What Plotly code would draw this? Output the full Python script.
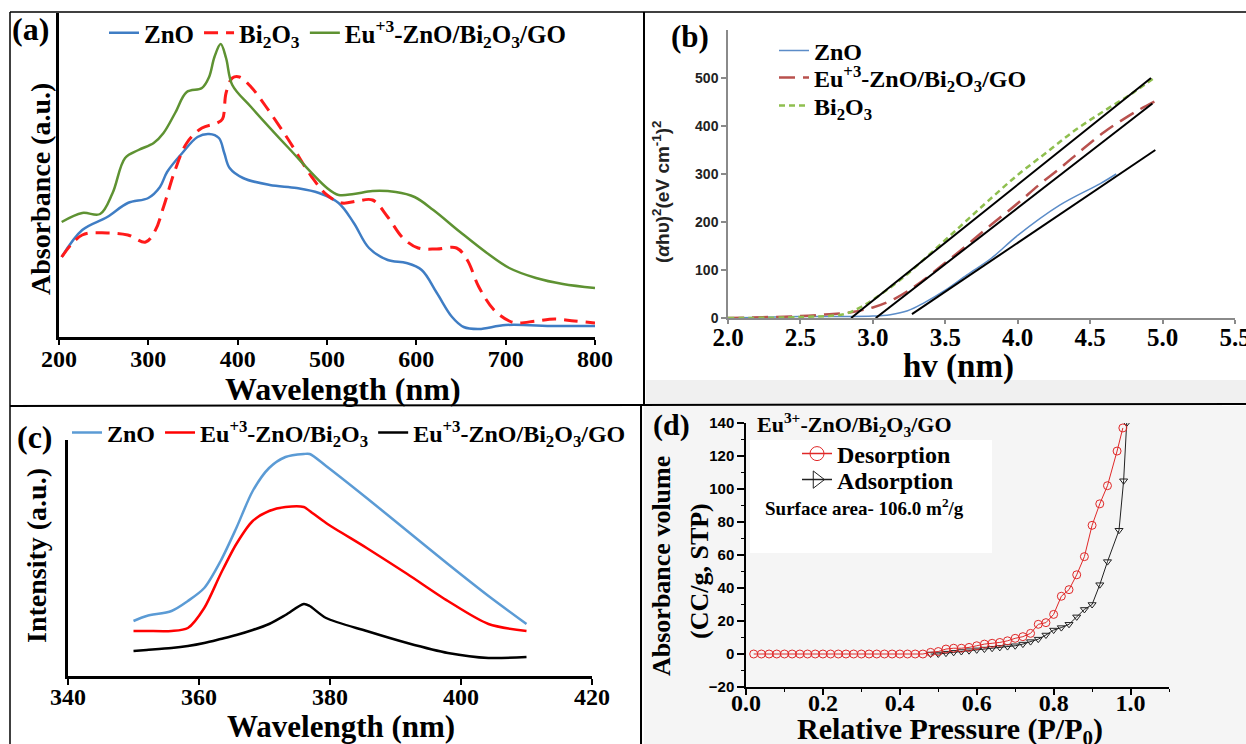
import plotly.graph_objects as go

W, H = 1246, 744
def px(x): return x / W
def py(y): return 1 - y / H

SERIF = "Liberation Serif"
SANS = "Liberation Sans"

# ---------------- (a) UV-Vis absorbance ----------------
a_zno_x = [203, 226, 254, 277, 300, 313, 321, 338, 355, 368, 379, 385, 391, 406, 436, 466, 491, 513, 530, 547, 568, 589, 606, 623, 640, 653, 670, 700, 755, 800]
a_zno_y = [80, 107, 120, 134, 139, 150, 165, 184, 200, 203, 199, 184, 169, 159, 152, 149, 144, 134, 114, 89, 77, 74, 67, 44, 20, 10, 8, 12, 11, 11]
a_bi_x = [203, 226, 254, 277, 297, 308, 317, 330, 343, 360, 377, 383, 387, 394, 402, 415, 432, 457, 483, 500, 517, 534, 551, 568, 585, 602, 623, 645, 657, 670, 687, 704, 713, 734, 755, 777, 800]
a_bi_y = [80, 102, 104, 102, 95, 107, 130, 167, 194, 209, 214, 218, 244, 259, 260, 250, 230, 197, 160, 142, 134, 136, 137, 120, 99, 89, 88, 89, 77, 50, 27, 16, 14, 16, 18, 16, 14]
a_eu_x = [203, 226, 246, 260, 274, 289, 306, 317, 330, 343, 360, 368, 374, 381, 387, 394, 415, 457, 500, 513, 530, 551, 577, 598, 619, 649, 679, 704, 734, 764, 800]
a_eu_y = [115, 124, 123, 144, 179, 187, 194, 204, 224, 245, 249, 260, 280, 293, 279, 252, 230, 189, 149, 142, 143, 146, 145, 140, 127, 105, 84, 69, 59, 53, 49]
a_ticks = [200, 300, 400, 500, 600, 700, 800]

# ---------------- (b) Tauc plot ----------------
b_zno_x = [2.0, 2.5, 2.8, 3.0, 3.12, 3.24, 3.35, 3.5, 3.65, 3.82, 4.0, 4.29, 4.57, 4.68]
b_zno_y = [0, 3, 3, 4, 7, 15, 31, 58, 90, 125, 172, 235, 280, 300]
b_eu_x = [2.0, 2.5, 2.7, 2.85, 3.0, 3.15, 3.3, 3.5, 3.65, 3.8, 4.0, 4.15, 4.3, 4.45, 4.6, 4.75, 4.85, 4.95]
b_eu_y = [0, 4, 8, 12, 22, 40, 68, 115, 152, 190, 239, 278, 314, 352, 388, 418, 436, 452]
b_bi_x = [2.0, 2.5, 2.8, 2.9, 3.0, 3.2, 3.4, 3.6, 3.8, 4.0, 4.2, 4.4, 4.6, 4.8, 4.95]
b_bi_y = [0, 2, 8, 20, 38, 82, 135, 190, 245, 298, 345, 392, 432, 470, 502]
b_fit_x = [2.85, 4.92, None, 3.02, 4.93, None, 3.27, 4.95]
b_fit_y = [0, 500, None, 0, 447, None, 8, 350]
b_xticks = [2.0, 2.5, 3.0, 3.5, 4.0, 4.5, 5.0, 5.5]
b_yticks = [0, 100, 200, 300, 400, 500]

# ---------------- (c) PL spectra ----------------
c_x = [350, 352, 355.8, 358.3, 360.8, 363.3, 365.7, 368.2, 370.7, 373.2, 376, 376.9, 379.4, 385.6, 391.8, 398, 404.2, 410]
c_zno = [55, 60, 65, 75, 88, 115, 148, 185, 208, 219, 222, 222, 210, 178, 145, 112, 80, 52]
c_eu = [45, 45, 45, 48, 68, 102, 132, 155, 165, 169, 169, 165, 153, 128, 102, 75, 52, 45]
c_go = [25, 26, 28, 30, 33, 37, 41, 46, 52, 61, 72, 70, 58, 45, 33, 23, 18, 19]
c_ticks = [340, 360, 380, 400, 420]

# ---------------- (d) BET isotherm ----------------
d_des_x = [0.02, 0.04, 0.06, 0.08, 0.10, 0.12, 0.14, 0.16, 0.18, 0.20, 0.22, 0.24, 0.26, 0.28, 0.30,
           0.32, 0.34, 0.36, 0.38, 0.40, 0.42, 0.44, 0.46, 0.48, 0.50, 0.52, 0.54, 0.56, 0.58, 0.60,
           0.62, 0.64, 0.66, 0.68, 0.70, 0.72, 0.74, 0.76, 0.78, 0.80, 0.82, 0.84, 0.86, 0.88, 0.90,
           0.92, 0.94, 0.965, 0.98]
d_des_y = [0, 0, 0, 0, 0, 0, 0, 0, 0, 0, 0, 0, 0, 0, 0,
           0, 0, 0, 0, 0, 0, 0, 0, 1, 1.5, 3, 3.5, 3.5, 4, 5,
           6, 6.5, 7, 8, 9.5, 10.5, 12.5, 18, 19, 24, 35, 39, 48, 59, 78,
           91, 102, 123, 137]
d_ads_x = [0.48, 0.50, 0.52, 0.54, 0.56, 0.58, 0.60, 0.62, 0.64, 0.66, 0.68, 0.70, 0.72, 0.74, 0.76,
           0.78, 0.80, 0.82, 0.84, 0.86, 0.88, 0.90, 0.92, 0.94, 0.97, 0.982, 0.99]
d_ads_y = [0, 0, 0.5, 1, 1.5, 2, 2.5, 3, 3.5, 4, 4.5, 5, 6, 7.5, 9,
           11.5, 14.5, 16, 18, 22.5, 27, 30, 42, 56, 75, 105, 140]
d_xticks = [0.0, 0.2, 0.4, 0.6, 0.8, 1.0]
d_yticks = [-20, 0, 20, 40, 60, 80, 100, 120, 140]

EU3_GO = "Eu<sup>+3</sup>-ZnO/Bi<sub>2</sub>O<sub>3</sub>/GO"
EU3 = "Eu<sup>+3</sup>-ZnO/Bi<sub>2</sub>O<sub>3</sub>"
BI = "Bi<sub>2</sub>O<sub>3</sub>"

fig = go.Figure()

# (a)
fig.add_trace(go.Scatter(x=a_zno_x, y=a_zno_y, name="ZnO", mode="lines", line=dict(color="#3f7dc4", width=2.5, shape="spline"), xaxis="x", yaxis="y", legend="legend"))
fig.add_trace(go.Scatter(x=a_bi_x, y=a_bi_y, name=BI, mode="lines", line=dict(color="#ff1a1a", width=3, dash="14px,8px", shape="spline"), xaxis="x", yaxis="y", legend="legend"))
fig.add_trace(go.Scatter(x=a_eu_x, y=a_eu_y, name=EU3_GO, mode="lines", line=dict(color="#5e9232", width=2.5, shape="spline"), xaxis="x", yaxis="y", legend="legend"))

# (b)
fig.add_trace(go.Scatter(x=b_zno_x, y=b_zno_y, name="ZnO", mode="lines", line=dict(color="#5b8cc8", width=1.5, shape="spline"), xaxis="x2", yaxis="y2", legend="legend2"))
fig.add_trace(go.Scatter(x=b_eu_x, y=b_eu_y, name=EU3_GO, mode="lines", line=dict(color="#b9514e", width=2.5, dash="16px,8px", shape="spline"), xaxis="x2", yaxis="y2", legend="legend3"))
fig.add_trace(go.Scatter(x=b_bi_x, y=b_bi_y, name=BI, mode="lines", line=dict(color="#8fbf4f", width=2.5, dash="6px,4px", shape="spline"), xaxis="x2", yaxis="y2", legend="legend4"))
fig.add_trace(go.Scatter(x=b_fit_x, y=b_fit_y, mode="lines", line=dict(color="black", width=2), showlegend=False, xaxis="x2", yaxis="y2"))

# (c)
fig.add_trace(go.Scatter(x=c_x, y=c_zno, name="ZnO", mode="lines", line=dict(color="#5b9bd5", width=2.5, shape="spline", smoothing=0.8), xaxis="x3", yaxis="y3", legend="legend5"))
fig.add_trace(go.Scatter(x=c_x, y=c_eu, name=EU3, mode="lines", line=dict(color="#ff0000", width=2.5, shape="spline", smoothing=0.8), xaxis="x3", yaxis="y3", legend="legend5"))
fig.add_trace(go.Scatter(x=c_x, y=c_go, name=EU3_GO, mode="lines", line=dict(color="black", width=2.5, shape="spline", smoothing=0.8), xaxis="x3", yaxis="y3", legend="legend5"))

# (d)
fig.add_trace(go.Scatter(x=d_ads_x, y=d_ads_y, mode="lines+markers", showlegend=False,
                         line=dict(color="#222222", width=1), marker=dict(symbol="triangle-down-open", size=7, color="#222222"),
                         xaxis="x4", yaxis="y4"))
fig.add_trace(go.Scatter(x=d_des_x, y=d_des_y, mode="lines+markers", showlegend=False,
                         line=dict(color="#e02828", width=1), marker=dict(symbol="circle-open", size=8, color="#e02828"),
                         xaxis="x4", yaxis="y4"))
fig.add_trace(go.Scatter(x=[None], y=[None], name="Desorption", mode="lines+markers",
                         line=dict(color="#e02828", width=1.5), marker=dict(symbol="circle-open", size=14, color="#e02828"),
                         xaxis="x4", yaxis="y4", legend="legend6"))
fig.add_trace(go.Scatter(x=[None], y=[None], name="Adsorption", mode="lines+markers",
                         line=dict(color="#222222", width=1.5), marker=dict(symbol="triangle-right-open", size=15, color="#222222"),
                         xaxis="x4", yaxis="y4", legend="legend7"))

def serif(size):
    return dict(family=SERIF, size=size, color="black", weight="bold")

def sans(size, color="black"):
    return dict(family=SANS, size=size, color=color, weight="bold")

common = dict(showgrid=False, zeroline=False, showline=True, automargin=False, ticklabeloverflow="allow")

def leg(x, y, size, orientation="v"):
    return dict(x=px(x), y=py(y), xanchor="left", yanchor="middle", orientation=orientation,
                font=serif(size), bgcolor="rgba(0,0,0,0)", itemwidth=30, tracegroupgap=0, itemsizing="trace")

TXT = 42  # legend text offset from legend left edge

fig.update_layout(
    width=W, height=H, margin=dict(l=0, r=0, t=0, b=0, autoexpand=False),
    paper_bgcolor="white", plot_bgcolor="rgba(0,0,0,0)",
    # (a)
    xaxis=dict(domain=[px(59), px(595)], range=[200, 800], tickvals=a_ticks, anchor="y",
               linecolor="black", linewidth=2.5, ticks="outside", ticklen=5, tickwidth=2, tickcolor="black",
               tickfont=serif(24), ticklabelstandoff=-7, **common),
    yaxis=dict(domain=[py(337), py(13)], range=[0, 324], anchor="x", showticklabels=False, ticks="",
               linecolor="black", linewidth=2.5, **common),
    # (b)
    xaxis2=dict(domain=[px(728), px(1235)], range=[2.0, 5.5], tickvals=b_xticks, tickformat=".1f", anchor="y2",
                linecolor="#8a8a8a", linewidth=1.5, ticks="outside", ticklen=4, tickwidth=1.5, tickcolor="#8a8a8a",
                tickfont=serif(25), ticklabelstandoff=-8, **common),
    yaxis2=dict(domain=[py(318), py(30)], range=[0, 600], tickvals=b_yticks, anchor="x2",
                linecolor="#8a8a8a", linewidth=1.5, ticks="outside", ticklen=5, tickwidth=1.5, tickcolor="#8a8a8a",
                tickfont=sans(14, "#222222"), **common),
    # (c)
    xaxis3=dict(domain=[px(68), px(592)], range=[340, 420], tickvals=c_ticks, anchor="y3",
                linecolor="black", linewidth=2.5, ticks="outside", ticklen=6, tickwidth=2, tickcolor="black",
                tickfont=serif(24), ticklabelstandoff=-9, **common),
    yaxis3=dict(domain=[py(676), py(440)], range=[0, 236], anchor="x3", showticklabels=False, ticks="",
                linecolor="black", linewidth=2.5, **common),
    # (d)
    xaxis4=dict(domain=[px(746), px(1169)], range=[0, 1.1], tickvals=d_xticks, tickformat=".1f", anchor="y4",
                linecolor="black", linewidth=1.5, ticks="outside", ticklen=6, tickwidth=1.5, tickcolor="black",
                minor=dict(dtick=0.1, ticks="outside", ticklen=3, tickcolor="black", tickwidth=1),
                tickfont=serif(24), ticklabelstandoff=-13, **common),
    yaxis4=dict(domain=[py(687), py(423)], range=[-20, 140], tickvals=d_yticks, anchor="x4",
                linecolor="black", linewidth=1.5, ticks="outside", ticklen=7, tickwidth=1.5, tickcolor="black",
                minor=dict(dtick=10, ticks="outside", ticklen=3, tickcolor="black", tickwidth=1),
                tickfont=sans(15), **common),
    legend=leg(146 - TXT, 33, 25, "h"),
    legend2=leg(816 - TXT, 51, 24),
    legend3=leg(816 - TXT, 78, 24),
    legend4=leg(816 - TXT, 106, 24),
    legend5=leg(109 - TXT, 433, 24, "h"),
    legend6=leg(839 - TXT, 454, 24),
    legend7=leg(839 - TXT, 480, 24),
)

def ann(text, x, y, font, xanchor="center", angle=0):
    fig.add_annotation(text=text, x=px(x), y=py(y), xref="paper", yref="paper", showarrow=False,
                       xanchor=xanchor, yanchor="middle", font=font, textangle=angle)

# panel letters
ann("(a)", 30, 29, serif(32))
ann("(b)", 690, 37, serif(31))
ann("(c)", 35, 437, serif(32))
ann("(d)", 671, 425, serif(30))

# axis titles
ann("Wavelength (nm)", 343, 389, serif(32))
ann("Absorbance (a.u.)", 40, 189, serif(28), angle=-90)
ann("hv (nm)", 958, 366, serif(33))
ann("(<i>α</i>hυ)<sup>2</sup>(eV cm<sup>-1</sup>)<sup>2</sup>", 661, 192, sans(19, "#222222"), angle=-90)
ann("Wavelength (nm)", 341, 726, serif(31))
ann("Intensity (a.u.)", 36, 556, serif(28), angle=-90)
ann("Relative Pressure (P/P<sub>0</sub>)", 950, 731, serif(30))
ann("Absorbance volume", 661, 566, serif(26), angle=-90)
ann("(CC/g, STP)", 699, 571, serif(26), angle=-90)

# panel (d) texts
ann("Eu<sup>3+</sup>-ZnO/Bi<sub>2</sub>O<sub>3</sub>/GO", 755, 424, serif(22), xanchor="left")
ann("Surface area- 106.0 m<sup>2</sup>/g", 763, 507, serif(19), xanchor="left")

def rect(x0, y0, x1, y1, color):
    fig.add_shape(type="rect", xref="paper", yref="paper", x0=px(x0), x1=px(x1), y0=py(y0), y1=py(y1),
                  fillcolor=color, line=dict(width=0), layer="below")

def line(x0, y0, x1, y1, w=2):
    fig.add_shape(type="line", xref="paper", yref="paper", x0=px(x0), x1=px(x1), y0=py(y0), y1=py(y1),
                  line=dict(color="black", width=w), layer="above")

rect(644, 406, 1246, 744, "#f5f5f5")
rect(750, 440, 992, 553, "#ffffff")
rect(646, 380, 1246, 404, "#f0f0f0")

line(10, 12, 1246, 12, 1.5)
line(10, 12, 10, 744, 1.5)
line(10, 406, 1246, 404, 2)
line(644, 12, 644, 406, 2)
line(641, 406, 641, 744, 2)

fig.write_html("out.html", config={"displayModeBar": False},
               post_script="document.body.style.margin='0px';document.body.style.overflow='hidden';")
